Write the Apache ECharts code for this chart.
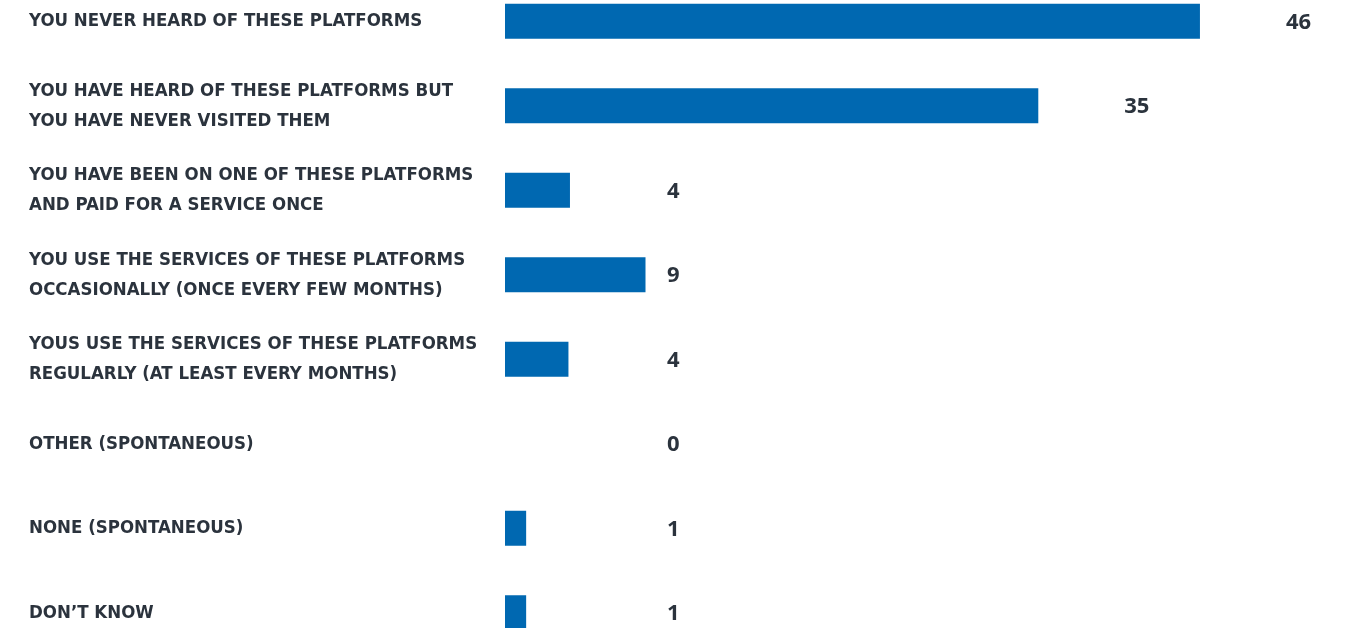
<!DOCTYPE html>
<html>
<head>
<meta charset="utf-8">
<script src="https://cdn.jsdelivr.net/npm/echarts@6/dist/echarts.min.js"></script>
<style>
  html, body { margin: 0; padding: 0; background: #fff; }
  #chart { width: 1348px; height: 628px; }
</style>
</head>
<body>
<div id="chart"></div>
<script>
// answer options, top to bottom
const categories = [
  'YOU NEVER HEARD OF THESE PLATFORMS',
  'YOU HAVE HEARD OF THESE PLATFORMS BUT\nYOU HAVE NEVER VISITED THEM',
  'YOU HAVE BEEN ON ONE OF THESE PLATFORMS\nAND PAID FOR A SERVICE ONCE',
  'YOU USE THE SERVICES OF THESE PLATFORMS\nOCCASIONALLY (ONCE EVERY FEW MONTHS)',
  'YOUS USE THE SERVICES OF THESE PLATFORMS\nREGULARLY (AT LEAST EVERY MONTHS)',
  'OTHER (SPONTANEOUS)',
  'NONE (SPONTANEOUS)',
  'DON\u2019T KNOW'
];
// bar lengths (labels show them rounded)
const shares = [46, 35.3, 4.3, 9.3, 4.2, 0, 1.4, 1.4];

const textColor = '#2b333d';
const barColor = '#0068b1';

let chart = echarts.init(document.getElementById('chart'), null, { renderer: 'canvas' });

chart.setOption({
  animation: false,
  grid: { left: 505, right: 0, top: -21, height: 676, outerBoundsMode: 'none', containLabel: false },
  xAxis: {
    type: 'value',
    min: 0,
    max: 55.8,
    show: false
  },
  yAxis: {
    type: 'category',
    inverse: true,
    data: categories,
    axisLine: { show: false },
    axisTick: { show: false },
    axisLabel: {
      align: 'left',
      margin: 476,
      color: textColor,
      fontFamily: 'DejaVu Sans Condensed',
      fontWeight: 'bold',
      fontSize: 18.5,
      lineHeight: 30
    }
  },
  series: [
    {
      type: 'bar',
      data: shares.map(v => ({
        value: v,
        // small bars keep their number in a fixed column, long bars push it right
        label: v < 20
          ? { position: 'insideLeft', offset: [157, 1] }
          : { position: 'right', distance: 86, offset: [0, 1] }
      })),
      barWidth: 35,
      itemStyle: { color: barColor },
      label: {
        show: true,
        color: textColor,
        fontFamily: 'Open Sans',
        fontWeight: 'bold',
        fontSize: 22,
        formatter: p => Math.round(p.value)
      }
    }
  ]
});
</script>
</body>
</html>
